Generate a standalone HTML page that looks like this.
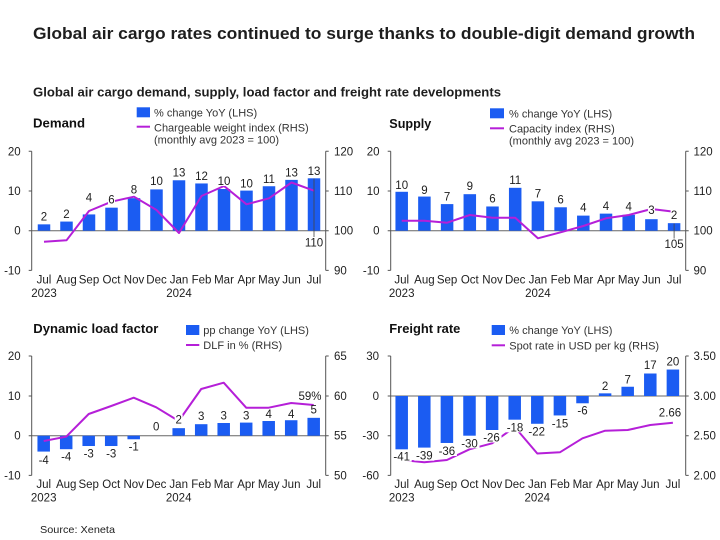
<!DOCTYPE html>
<html><head><meta charset="utf-8">
<style>
html,body{margin:0;padding:0;background:#fff;}
svg{display:block;}
text{font-family:"Liberation Sans",Arial,sans-serif;fill:#1e1e1e;}
.t{font-size:11.5px;fill:#333;}
.lg{font-size:11px;fill:#333;}
.dl{font-size:11.5px;fill:#333;text-anchor:middle;}
.pt{font-size:13px;font-weight:bold;fill:#111;}
.ax{stroke:#555;stroke-width:1;fill:none;}
.zl{stroke:#666;stroke-width:1;}
.bar{fill:#1b5cf2;}
.ln{fill:none;stroke:#b51fd8;stroke-width:2;stroke-linejoin:round;}
.bg{fill:#fff;}
</style></head>
<body>
<svg width="720" height="540" viewBox="0 0 720 540" xmlns="http://www.w3.org/2000/svg">
<rect width="720" height="540" fill="#fff"/>
<text x="33" y="39" font-size="17" font-weight="bold" fill="#111" textLength="662" lengthAdjust="spacingAndGlyphs">Global air cargo rates continued to surge thanks to double-digit demand growth</text>
<text x="33" y="96.5" font-size="12.5" font-weight="bold" fill="#111" textLength="468" lengthAdjust="spacingAndGlyphs">Global air cargo demand, supply, load factor and freight rate developments</text>

<!-- ============ DEMAND (TL) ============ -->
<text class="pt" x="33" y="127.5" textLength="52" lengthAdjust="spacingAndGlyphs">Demand</text>
<rect class="bar" x="136.7" y="107.3" width="13.3" height="10"/>
<text class="lg" x="154" y="116.3">% change YoY (LHS)</text>
<line x1="136.7" y1="126.7" x2="150" y2="126.7" stroke="#b51fd8" stroke-width="2"/>
<text class="lg" x="154" y="131.7">Chargeable weight index (RHS)</text>
<text class="lg" x="154" y="143.3">(monthly avg 2023 = 100)</text>
<line class="zl" x1="31.7" y1="230.7" x2="325.7" y2="230.7"/>
<path class="ax" d="M31.7 151.3V270.4M28.7 151.3H31.7M28.7 191H31.7M28.7 230.7H31.7M28.7 270.4H31.7"/>
<path class="ax" d="M325.7 151.3V270.4M325.7 151.3H328.7M325.7 191H328.7M325.7 230.7H328.7M325.7 270.4H328.7"/>
<g class="t" text-anchor="end">
<text x="20.7" y="155.3">20</text><text x="20.7" y="195">10</text><text x="20.7" y="234.7">0</text><text x="20.7" y="274.4">-10</text>
</g>
<g class="t">
<text x="334" y="155.3">120</text><text x="334" y="195">110</text><text x="334" y="234.7">100</text><text x="334" y="274.4">90</text>
</g>
<g class="bar">
<rect x="37.75" y="224.35" width="12.5" height="6.35"/>
<rect x="60.25" y="221.57" width="12.5" height="9.13"/>
<rect x="82.75" y="214.42" width="12.5" height="16.28"/>
<rect x="105.25" y="207.67" width="12.5" height="23.03"/>
<rect x="127.75" y="198.15" width="12.5" height="32.55"/>
<rect x="150.25" y="189.41" width="12.5" height="41.29"/>
<rect x="172.75" y="180.28" width="12.5" height="50.42"/>
<rect x="195.25" y="183.46" width="12.5" height="47.24"/>
<rect x="217.75" y="189.01" width="12.5" height="41.69"/>
<rect x="240.25" y="190.6" width="12.5" height="40.1"/>
<rect x="262.75" y="186.24" width="12.5" height="44.46"/>
<rect x="285.25" y="179.88" width="12.5" height="50.82"/>
<rect x="307.75" y="178.3" width="12.5" height="52.4"/>
</g>
<polyline class="ln" points="44,241.7 66.5,240.3 89,211 111.5,201.7 134,196.7 156.5,210 179,233 201.5,196 224,186 246.5,204.3 269,198.3 291.5,182.5 314,190.7"/>
<line x1="314" y1="178.5" x2="314" y2="237" stroke="#444" stroke-width="0.8"/>
<g class="bg">
<rect x="40" y="211.7" width="7" height="10"/><rect x="62.5" y="209" width="7" height="10"/>
<rect x="85" y="192.3" width="7" height="10"/><rect x="108" y="194.3" width="7" height="10"/>
<rect x="130" y="184.3" width="7" height="10"/><rect x="149.5" y="176" width="13" height="10"/>
<rect x="172.5" y="167.3" width="13" height="10"/><rect x="195" y="171" width="13" height="10"/>
<rect x="217.5" y="176" width="13" height="10"/><rect x="240" y="178.3" width="13" height="10"/>
<rect x="262.5" y="174" width="13" height="10"/><rect x="285" y="167.3" width="13" height="10"/>
<rect x="307.5" y="166" width="13" height="10"/><rect x="304.5" y="237.7" width="19" height="10"/>
</g>
<g class="dl">
<text x="44" y="220.7">2</text><text x="66.5" y="218">2</text><text x="89" y="201.3">4</text>
<text x="111.5" y="203.3">6</text><text x="134" y="193.3">8</text><text x="156.5" y="185">10</text>
<text x="179" y="176.3">13</text><text x="201.5" y="180">12</text><text x="224" y="185">10</text>
<text x="246.5" y="187.3">10</text><text x="269" y="183">11</text><text x="291.5" y="176.3">13</text>
<text x="314" y="175">13</text><text x="314" y="246.7">110</text>
</g>
<g class="dl">
<text x="44" y="283.5">Jul</text><text x="66.5" y="283.5">Aug</text><text x="89" y="283.5">Sep</text>
<text x="111.5" y="283.5">Oct</text><text x="134" y="283.5">Nov</text><text x="156.5" y="283.5">Dec</text>
<text x="179" y="283.5">Jan</text><text x="201.5" y="283.5">Feb</text><text x="224" y="283.5">Mar</text>
<text x="246.5" y="283.5">Apr</text><text x="269" y="283.5">May</text><text x="291.5" y="283.5">Jun</text>
<text x="314" y="283.5">Jul</text>
<text x="44" y="297">2023</text><text x="179" y="297">2024</text>
</g>

<!-- ============ SUPPLY (TR) ============ -->
<text class="pt" x="389.3" y="127.8" textLength="42" lengthAdjust="spacingAndGlyphs">Supply</text>
<rect class="bar" x="490" y="108.3" width="14" height="10"/>
<text class="lg" x="509" y="117.3">% change YoY (LHS)</text>
<line x1="490" y1="128.3" x2="504" y2="128.3" stroke="#b51fd8" stroke-width="2"/>
<text class="lg" x="509" y="132.3">Capacity index (RHS)</text>
<text class="lg" x="509" y="144.7">(monthly avg 2023 = 100)</text>
<line class="zl" x1="390.7" y1="230.7" x2="685.7" y2="230.7"/>
<path class="ax" d="M390.7 151.3V270.4M387.7 151.3H390.7M387.7 191H390.7M387.7 230.7H390.7M387.7 270.4H390.7"/>
<path class="ax" d="M685.7 151.3V270.4M685.7 151.3H688.7M685.7 191H688.7M685.7 230.7H688.7M685.7 270.4H688.7"/>
<g class="t" text-anchor="end">
<text x="379.5" y="155.3">20</text><text x="379.5" y="195">10</text><text x="379.5" y="234.7">0</text><text x="379.5" y="274.4">-10</text>
</g>
<g class="t">
<text x="693.5" y="155.3">120</text><text x="693.5" y="195">110</text><text x="693.5" y="234.7">100</text><text x="693.5" y="274.4">90</text>
</g>
<g class="bar">
<rect x="395.45" y="191.79" width="12.5" height="38.91"/>
<rect x="418.15" y="196.56" width="12.5" height="34.14"/>
<rect x="440.85" y="204.1" width="12.5" height="26.6"/>
<rect x="463.55" y="194.18" width="12.5" height="36.52"/>
<rect x="486.25" y="206.48" width="12.5" height="24.22"/>
<rect x="508.95" y="187.82" width="12.5" height="42.88"/>
<rect x="531.65" y="201.32" width="12.5" height="29.38"/>
<rect x="554.35" y="207.28" width="12.5" height="23.42"/>
<rect x="577.05" y="215.61" width="12.5" height="15.09"/>
<rect x="599.75" y="213.63" width="12.5" height="17.07"/>
<rect x="622.45" y="214.82" width="12.5" height="15.88"/>
<rect x="645.15" y="219.19" width="12.5" height="11.51"/>
<rect x="667.85" y="223.16" width="12.5" height="7.54"/>
</g>
<polyline class="ln" points="401.7,220.7 424.4,220.7 447.1,222.7 469.8,215 492.5,217.7 515.2,217.7 537.9,238.3 560.6,232.3 583.3,226 606,218.3 628.7,215 651.4,209 674.1,211.7"/>
<line x1="674.1" y1="223.5" x2="674.1" y2="238.5" stroke="#444" stroke-width="0.8"/>
<g class="bg">
<rect x="395.2" y="180" width="13" height="10"/><rect x="420.9" y="185" width="7" height="10"/>
<rect x="443.6" y="191.7" width="7" height="10"/><rect x="466.3" y="181" width="7" height="10"/>
<rect x="489" y="193.3" width="7" height="10"/><rect x="508.7" y="175" width="13" height="10"/>
<rect x="534.4" y="188.3" width="7" height="10"/><rect x="557.1" y="194.3" width="7" height="10"/>
<rect x="579.8" y="202.3" width="7" height="10"/><rect x="602.5" y="201" width="7" height="10"/>
<rect x="625.2" y="201.7" width="7" height="10"/><rect x="647.9" y="205" width="7" height="10"/>
<rect x="670.6" y="210" width="7" height="10"/><rect x="664.6" y="239" width="19" height="10"/>
</g>
<g class="dl">
<text x="401.7" y="189">10</text><text x="424.4" y="194">9</text><text x="447.1" y="200.7">7</text>
<text x="469.8" y="190">9</text><text x="492.5" y="202.3">6</text><text x="515.2" y="184">11</text>
<text x="537.9" y="197.3">7</text><text x="560.6" y="203.3">6</text><text x="583.3" y="211.3">4</text>
<text x="606" y="210">4</text><text x="628.7" y="210.7">4</text><text x="651.4" y="214">3</text>
<text x="674.1" y="219">2</text><text x="674.1" y="248">105</text>
</g>
<g class="dl">
<text x="401.7" y="283.5">Jul</text><text x="424.4" y="283.5">Aug</text><text x="447.1" y="283.5">Sep</text>
<text x="469.8" y="283.5">Oct</text><text x="492.5" y="283.5">Nov</text><text x="515.2" y="283.5">Dec</text>
<text x="537.9" y="283.5">Jan</text><text x="560.6" y="283.5">Feb</text><text x="583.3" y="283.5">Mar</text>
<text x="606" y="283.5">Apr</text><text x="628.7" y="283.5">May</text><text x="651.4" y="283.5">Jun</text>
<text x="674.1" y="283.5">Jul</text>
<text x="401.7" y="297">2023</text><text x="537.9" y="297">2024</text>
</g>

<!-- ============ DLF (BL) ============ -->
<text class="pt" x="33.3" y="332.8" textLength="125" lengthAdjust="spacingAndGlyphs">Dynamic load factor</text>
<rect class="bar" x="186" y="325" width="13.3" height="10"/>
<text class="lg" x="203.3" y="334">pp change YoY (LHS)</text>
<line x1="186" y1="345" x2="199.3" y2="345" stroke="#b51fd8" stroke-width="2"/>
<text class="lg" x="203.3" y="349">DLF in % (RHS)</text>
<line class="zl" x1="31.7" y1="435.7" x2="325.7" y2="435.7"/>
<path class="ax" d="M31.7 356V475.4M28.7 356H31.7M28.7 396H31.7M28.7 435.7H31.7M28.7 475.4H31.7"/>
<path class="ax" d="M325.7 356V475.4M325.7 356H328.7M325.7 396H328.7M325.7 435.7H328.7M325.7 475.4H328.7"/>
<g class="t" text-anchor="end">
<text x="20.7" y="360">20</text><text x="20.7" y="400">10</text><text x="20.7" y="439.7">0</text><text x="20.7" y="479.4">-10</text>
</g>
<g class="t">
<text x="334" y="360">65</text><text x="334" y="400">60</text><text x="334" y="439.7">55</text><text x="334" y="479.4">50</text>
</g>
<g class="bar">
<rect x="37.45" y="435.7" width="12.5" height="15.88"/>
<rect x="59.95" y="435.7" width="12.5" height="13.5"/>
<rect x="82.45" y="435.7" width="12.5" height="10.32"/>
<rect x="104.95" y="435.7" width="12.5" height="10.32"/>
<rect x="127.45" y="435.7" width="12.5" height="3.57"/>
<rect x="172.45" y="428.16" width="12.5" height="7.54"/>
<rect x="194.95" y="424.19" width="12.5" height="11.51"/>
<rect x="217.45" y="423" width="12.5" height="12.7"/>
<rect x="239.95" y="422.6" width="12.5" height="13.1"/>
<rect x="262.45" y="421.01" width="12.5" height="14.69"/>
<rect x="284.95" y="420.22" width="12.5" height="15.48"/>
<rect x="307.45" y="417.83" width="12.5" height="17.87"/>
</g>
<polyline class="ln" points="43.7,441 66.2,436.7 88.7,414 111.2,406 133.7,397.7 156.2,407.3 178.7,421 201.2,389 223.7,382.7 246.2,407.7 268.7,407.7 291.2,403 313.7,405"/>
<g class="bg">
<rect x="37" y="455" width="13" height="10"/><rect x="59.5" y="451.7" width="13" height="10"/>
<rect x="82" y="448.3" width="13" height="10"/><rect x="104.5" y="448.3" width="13" height="10"/>
<rect x="127" y="441.7" width="13" height="10"/><rect x="152.7" y="421.7" width="7" height="10"/>
<rect x="174.7" y="414.5" width="8" height="10"/><rect x="197.7" y="411" width="7" height="10"/>
<rect x="220.2" y="410.3" width="7" height="10"/><rect x="242.7" y="410.3" width="7" height="10"/>
<rect x="265.2" y="409" width="7" height="10"/><rect x="287.7" y="409" width="7" height="10"/>
<rect x="299" y="391" width="22" height="10"/>
</g>
<g class="dl">
<text x="43.7" y="464">-4</text><text x="66.2" y="460.7">-4</text><text x="88.7" y="457.3">-3</text>
<text x="111.2" y="457.3">-3</text><text x="133.7" y="450.7">-1</text><text x="156.2" y="430.7">0</text>
<text x="178.7" y="423.5">2</text><text x="201.2" y="420">3</text><text x="223.7" y="419.3">3</text>
<text x="246.2" y="419.3">3</text><text x="268.7" y="418">4</text><text x="291.2" y="418">4</text>
<text x="313.7" y="413.3">5</text><text x="310" y="400">59%</text>
</g>
<g class="dl">
<text x="43.7" y="488">Jul</text><text x="66.2" y="488">Aug</text><text x="88.7" y="488">Sep</text>
<text x="111.2" y="488">Oct</text><text x="133.7" y="488">Nov</text><text x="156.2" y="488">Dec</text>
<text x="178.7" y="488">Jan</text><text x="201.2" y="488">Feb</text><text x="223.7" y="488">Mar</text>
<text x="246.2" y="488">Apr</text><text x="268.7" y="488">May</text><text x="291.2" y="488">Jun</text>
<text x="313.7" y="488">Jul</text>
<text x="43.7" y="501.5">2023</text><text x="178.7" y="501.5">2024</text>
</g>

<!-- ============ FREIGHT (BR) ============ -->
<text class="pt" x="389.3" y="332.8" textLength="71" lengthAdjust="spacingAndGlyphs">Freight rate</text>
<rect class="bar" x="491.7" y="325" width="13.3" height="10"/>
<text class="lg" x="509.3" y="334">% change YoY (LHS)</text>
<line x1="491.7" y1="345.3" x2="505" y2="345.3" stroke="#b51fd8" stroke-width="2"/>
<text class="lg" x="509.3" y="349.3">Spot rate in USD per kg (RHS)</text>
<line class="zl" x1="390.7" y1="396" x2="685.7" y2="396"/>
<path class="ax" d="M390.7 356V475.4M387.7 356H390.7M387.7 396H390.7M387.7 435.7H390.7M387.7 475.4H390.7"/>
<path class="ax" d="M685.7 356V475.4M685.7 356H688.7M685.7 396H688.7M685.7 435.7H688.7M685.7 475.4H688.7"/>
<g class="t" text-anchor="end">
<text x="379" y="360">30</text><text x="379" y="400">0</text><text x="379" y="439.7">-30</text><text x="379" y="479.4">-60</text>
</g>
<g class="t">
<text x="693.5" y="360">3.50</text><text x="693.5" y="400">3.00</text><text x="693.5" y="439.7">2.50</text><text x="693.5" y="479.4">2.00</text>
</g>
<g class="bar">
<rect x="395.45" y="396" width="12.5" height="53.32"/>
<rect x="418.05" y="396" width="12.5" height="51.6"/>
<rect x="440.65" y="396" width="12.5" height="46.97"/>
<rect x="463.25" y="396" width="12.5" height="39.69"/>
<rect x="485.85" y="396" width="12.5" height="34"/>
<rect x="508.45" y="396" width="12.5" height="23.68"/>
<rect x="531.05" y="396" width="12.5" height="27.78"/>
<rect x="553.65" y="396" width="12.5" height="19.45"/>
<rect x="576.25" y="396" width="12.5" height="7.28"/>
<rect x="598.85" y="393.35" width="12.5" height="2.65"/>
<rect x="621.45" y="386.74" width="12.5" height="9.26"/>
<rect x="644.05" y="373.51" width="12.5" height="22.49"/>
<rect x="666.65" y="369.54" width="12.5" height="26.46"/>
</g>
<polyline class="ln" points="401.7,460 424.3,462.3 446.9,460 469.5,449.3 492.1,443.3 514.7,427 537.3,453.5 559.9,452.3 582.5,438.3 605.1,430.7 627.7,430 650.3,425 672.9,422.7"/>
<g class="bg">
<rect x="391.7" y="451.7" width="20" height="10"/><rect x="414.3" y="450.7" width="20" height="10"/>
<rect x="436.9" y="446" width="20" height="10"/><rect x="459.5" y="438.3" width="20" height="10"/>
<rect x="481.5" y="432.5" width="20" height="10"/><rect x="505" y="422.3" width="20" height="10"/>
<rect x="526.7" y="426.7" width="20" height="10"/><rect x="550" y="418.3" width="20" height="10"/>
<rect x="575.5" y="405.7" width="14" height="10"/><rect x="601.6" y="381" width="7" height="10"/>
<rect x="624.2" y="374.3" width="7" height="10"/><rect x="643.8" y="360" width="13" height="10"/>
<rect x="666.4" y="356.7" width="13" height="10"/><rect x="658" y="407.5" width="24" height="10"/>
</g>
<g class="dl">
<text x="401.7" y="460.7">-41</text><text x="424.3" y="459.7">-39</text><text x="446.9" y="455">-36</text>
<text x="469.5" y="447.3">-30</text><text x="491.5" y="441.5">-26</text><text x="515" y="431.3">-18</text>
<text x="536.7" y="435.7">-22</text><text x="560" y="427.3">-15</text><text x="582.5" y="414.7">-6</text>
<text x="605.1" y="390">2</text><text x="627.7" y="383.3">7</text><text x="650.3" y="369">17</text>
<text x="672.9" y="365.7">20</text><text x="670" y="416.5">2.66</text>
</g>
<g class="dl">
<text x="401.7" y="488">Jul</text><text x="424.3" y="488">Aug</text><text x="446.9" y="488">Sep</text>
<text x="469.5" y="488">Oct</text><text x="492.1" y="488">Nov</text><text x="514.7" y="488">Dec</text>
<text x="537.3" y="488">Jan</text><text x="559.9" y="488">Feb</text><text x="582.5" y="488">Mar</text>
<text x="605.1" y="488">Apr</text><text x="627.7" y="488">May</text><text x="650.3" y="488">Jun</text>
<text x="672.9" y="488">Jul</text>
<text x="401.7" y="501.5">2023</text><text x="537.3" y="501.5">2024</text>
</g>

<text x="40" y="533" font-size="10.5" fill="#333" textLength="75" lengthAdjust="spacingAndGlyphs">Source: Xeneta</text>
</svg>
</body></html>
